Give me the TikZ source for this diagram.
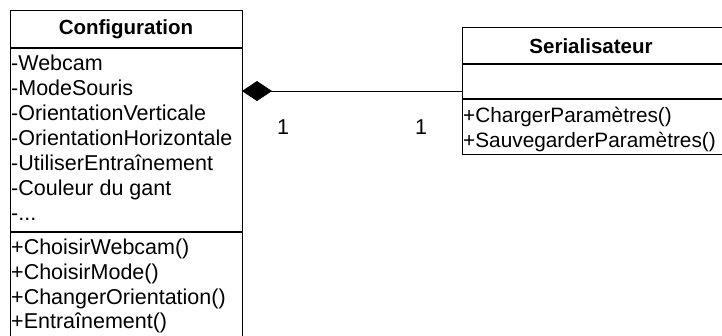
\documentclass[tikz,border=0pt]{standalone}
\usepackage{fontspec}
\setmainfont{Liberation Sans}
\usetikzlibrary{arrows.meta}
\tikzset{
  boxline/.style={draw=black, line width=1.3pt},
  sepline/.style={draw=black, line width=2pt},
  member/.style={anchor=base west, inner sep=0pt, font=\fontsize{21.5}{24}\selectfont},
  smember/.style={anchor=base west, inner sep=0pt, font=\fontsize{20.8}{24}\selectfont},
  classtitle/.style={anchor=base, inner sep=0pt, font=\fontsize{20.5}{24}\selectfont\bfseries},
  mult/.style={inner sep=0pt, font=\fontsize{21.5}{24}\selectfont},
  compos/.style={line width=1pt, {Diamond[length=30pt,width=20pt]}-},
}
\begin{document}
\begin{tikzpicture}[x=1pt,y=-1pt]
\useasboundingbox (0,0) rectangle (722,335);
\clip (0,0) rectangle (722,335);
% Configuration class
\node[boxline, anchor=north west, minimum width=232pt, minimum height=340pt, inner sep=0pt] (cfg) at (10,10) {};
\draw[sepline] (10,48) -- (242,48);
\draw[sepline] (10,232) -- (242,232);
\node[classtitle] (cfgT) at (126,34.5) {Configuration};
\node[member] (a1) at (11,70.5) {-Webcam};
\node[member] (a2) at (11,95.5) {-ModeSouris};
\node[member] (a3) at (11,120.5) {-OrientationVerticale};
\node[member] (a4) at (11,145.5) {-OrientationHorizontale};
\node[member] (a5) at (11,170.5) {-UtiliserEntraînement};
\node[member] (a6) at (11,195.5) {-Couleur du gant};
\node[member] (a7) at (11,220.5) {-...};
\node[member] (m1) at (11,254.5) {+ChoisirWebcam()};
\node[member] (m2) at (11,279.5) {+ChoisirMode()};
\node[member] (m3) at (11,304.5) {+ChangerOrientation()};
\node[member] (m4) at (11,328.5) {+Entraînement()};
% Serialisateur class
\node[boxline, anchor=north west, minimum width=300pt, minimum height=127pt, inner sep=0pt] (ser) at (462,27) {};
\draw[sepline] (462,64) -- (762,64);
\draw[sepline] (462,98.5) -- (762,98.5);
\node[classtitle] (serT) at (591,53) {Serialisateur};
\node[smember] (s1) at (463,122) {+ChargerParamètres()};
\node[smember] (s2) at (463,147) {+SauvegarderParamètres()};
% association
\coordinate (cA) at (242,91);
\coordinate (sA) at (462,91);
\draw[compos] (cA) -- (sA);
\node[mult] (n1) at (283,127) {1};
\node[mult] (n2) at (421,127) {1};
\end{tikzpicture}
\end{document}
